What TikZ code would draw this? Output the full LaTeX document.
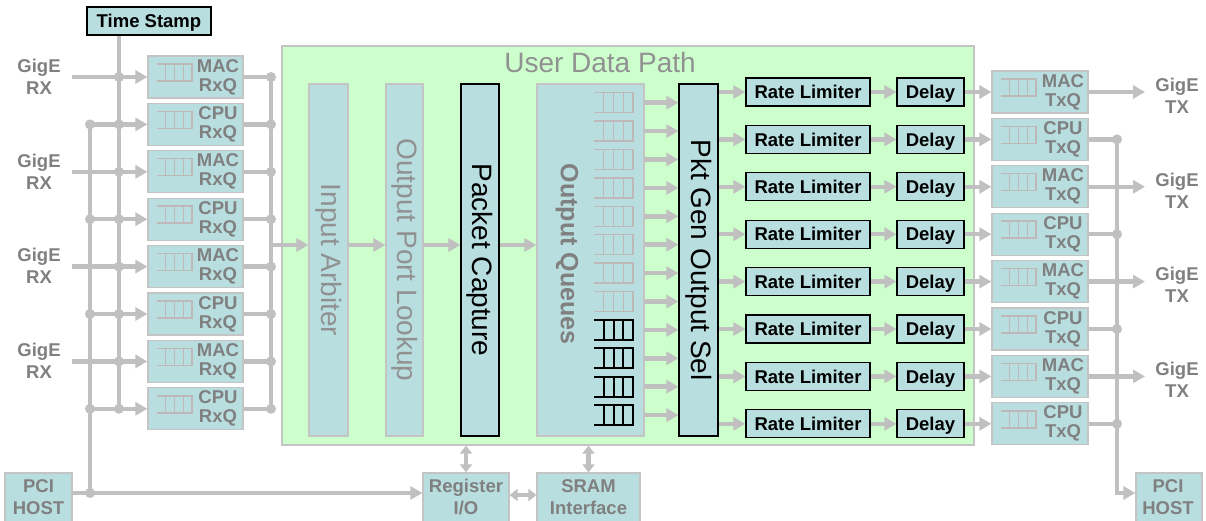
\documentclass[tikz,border=0pt]{standalone}
\usepackage{fontspec}
\setmainfont{Liberation Sans}
\usetikzlibrary{arrows.meta}

\definecolor{qblue}{RGB}{185,222,224}
\definecolor{udpgreen}{RGB}{204,255,204}
\definecolor{wiregray}{RGB}{192,192,192}
\definecolor{edgegray}{RGB}{196,196,196}
\definecolor{txtgray}{RGB}{128,128,128}
\definecolor{bigtxtgray}{RGB}{145,145,145}
\definecolor{icongray}{RGB}{190,184,184}

% queue glyph: left x, centre y, width, half height, draw options
\newcommand\ladder[5]{%
  \draw[#5] (#1,#2-#4) -- ++(#3,0) -- ++(0,2*#4) -- ++(-#3,0)
    (#1+0.25*#3,#2-#4) -- ++(0,2*#4)
    (#1+0.5*#3,#2-#4) -- ++(0,2*#4)
    (#1+0.75*#3,#2-#4) -- ++(0,2*#4);}

\begin{document}
\begin{tikzpicture}[x=1pt,y=-1pt,
  wire/.style={draw=wiregray,line width=4.5pt},
  arr/.style={wire,-{Triangle[length=12pt,width=13pt]}},
  darr/.style={wire,{Triangle[length=8pt,width=12pt]}-{Triangle[length=8pt,width=12pt]}},
  dot/.style={circle,fill=wiregray,inner sep=0pt,minimum size=10pt},
  softbox/.style={draw=edgegray,fill=qblue,line width=1.2pt,inner sep=0pt},
  hardbox/.style={draw=black,fill=qblue,line width=1.2pt,inner sep=0pt},
  lbl/.style={font=\fontsize{18.5}{19}\selectfont\bfseries,text=txtgray,align=center,inner sep=0pt},
  lbltwo/.style={font=\fontsize{18.5}{22}\selectfont\bfseries,text=txtgray,align=center,inner sep=0pt},
  blbl/.style={font=\fontsize{18.5}{19}\selectfont\bfseries,text=black,text depth=0pt},
  bigtxt/.style={font=\fontsize{28}{30}\selectfont,text=bigtxtgray,inner sep=0pt},
  softicon/.style={draw=icongray,line width=1.4pt},
  hardicon/.style={draw=black,line width=2pt},
]
\clip (0,0) rectangle (1206,521);

% user data path region and its pipeline columns
\node[draw=edgegray,fill=udpgreen,line width=1.2pt,minimum width=692pt,minimum height=399pt,inner sep=0pt] (udp) at (628,245.5) {};
\node[bigtxt] (udpt) at (600,62.5) {User Data Path};

\node[softbox,minimum width=39pt,minimum height=352pt] (arb) at (328.5,260) {};
\node[bigtxt,rotate=-90] (arbt) at (arb.center) {Input Arbiter};
\node[softbox,minimum width=37pt,minimum height=352pt] (lkp) at (404.5,260) {};
\node[bigtxt,rotate=-90] (lkpt) at (lkp.center) {Output Port Lookup};
\node[hardbox,minimum width=38pt,minimum height=352pt] (cap) at (480,260) {};
\node[bigtxt,text=black,rotate=-90] (capt) at (cap.center) {Packet Capture};
\node[softbox,minimum width=107pt,minimum height=352pt] (oq) at (590.5,260) {};
\node[font=\fontsize{25}{27}\selectfont\bfseries,text=txtgray,inner sep=0pt,rotate=-90] (oqt) at (567,254) {Output Queues};
\node[hardbox,minimum width=39pt,minimum height=352pt] (pg) at (698.5,260) {};
\node[bigtxt,text=black,rotate=-90] (pgt) at (pg.center) {Pkt Gen Output Sel};

% time stamp
\node[hardbox,blbl,minimum width=124pt,minimum height=28pt] (ts) at (149,21) {Time Stamp};

% host side blocks
\node[softbox,minimum width=67pt,minimum height=56pt] (pciL) at (38.5,501) {};
\node[lbltwo] (pciLt) at (38.5,497) {PCI\\HOST};
\node[softbox,minimum width=86pt,minimum height=56pt] (reg) at (466,501) {};
\node[lbltwo] (regt) at (466,497) {Register\\I/O};
\node[softbox,minimum width=103pt,minimum height=56pt] (sram) at (588.5,501) {};
\node[lbltwo] (sramt) at (588.5,497) {SRAM\\Interface};
\node[softbox,minimum width=66pt,minimum height=56pt] (pciR) at (1169,501) {};
\node[lbltwo] (pciRt) at (1168,497) {PCI\\HOST};

% bus coordinates
\coordinate (tsbus) at (119,408.8);
\coordinate (pcitop) at (90,124.4);
\coordinate (pcibot) at (90,493);
\coordinate (rxbusT) at (271,77);
\coordinate (rxbusB) at (271,408.8);
\coordinate (inbus) at (271,245);
\coordinate (txbusT) at (1117,139.4);
\coordinate (txbusB) at (1117,493);
\coordinate (rsY) at (0,495);

\draw[wire] (ts.south -| tsbus) -- (tsbus);
\draw[wire] (pcitop) -- (pcibot);
\draw[wire] (rxbusT) -- (rxbusB);

% receive queues
\foreach \ri in {0,...,7}{
  \pgfmathsetmacro\ry{77+47.4*\ri}
  \node[softbox,minimum width=95pt,minimum height=42pt] (rxq\ri) at (195.5,\ry) {};
  \ladder{157}{\ry-4.5}{35}{8.5}{softicon}
  \ifodd\ri
    \node[lbl] (rxqt\ri) at (218,\ry) {CPU\\RxQ};
    \draw[arr] (rxq\ri.west -| pcitop) -- (rxq\ri.west);
    \node[dot] (pcid\ri) at (rxq\ri.west -| pcitop) {};
  \else
    \node[lbl] (rxqt\ri) at (218,\ry) {MAC\\RxQ};
    \node[lbltwo] (rx\ri) at (39,\ry-0.5) {GigE\\RX};
    \coordinate (rxin\ri) at (72,\ry);
    \draw[arr] (rxin\ri) -- (rxq\ri.west);
  \fi
  \node[dot] (tsd\ri) at (rxq\ri.west -| tsbus) {};
  \draw[wire] (rxq\ri.east) -- (rxq\ri.east -| rxbusT);
  \node[dot] (rxd\ri) at (rxq\ri.east -| rxbusT) {};
}

% pipeline flow
\draw[arr] (inbus) -- (inbus -| arb.west);
\draw[arr] (inbus -| arb.east) -- (inbus -| lkp.west);
\draw[arr] (inbus -| lkp.east) -- (inbus -| cap.west);
\draw[arr] (inbus -| cap.east) -- (inbus -| oq.west);

% output queues
\foreach \qi in {0,...,11}{
  \pgfmathsetmacro\qy{102.7+28.4*\qi}
  \ifnum\qi<8
    \ladder{594}{\qy}{39}{10}{softicon}
  \else
    \ladder{594}{\qy}{39}{10}{hardicon}
  \fi
  \coordinate (oqa\qi) at (644,\qy);
  \draw[arr] (oqa\qi) -- (oqa\qi -| pg.west);
}

% per-port shaping and transmit queues
\foreach \ti in {0,...,7}{
  \pgfmathsetmacro\ty{92+47.4*\ti}
  \node[hardbox,blbl,minimum width=124pt,minimum height=28pt] (rl\ti) at (808,\ty) {Rate Limiter};
  \node[hardbox,blbl,minimum width=67pt,minimum height=28pt] (dl\ti) at (930.5,\ty) {Delay};
  \node[softbox,minimum width=96pt,minimum height=42pt] (txq\ti) at (1040,\ty) {};
  \ladder{1001}{\ty-4.5}{35}{8.5}{softicon}
  \draw[arr] (pg.east |- rl\ti.west) -- (rl\ti.west);
  \draw[arr] (rl\ti) -- (dl\ti);
  \draw[arr] (dl\ti) -- (txq\ti);
  \ifodd\ti
    \node[lbl] (txqt\ti) at (1063,\ty) {CPU\\TxQ};
    \draw[wire] (txq\ti.east) -- (txq\ti.east -| txbusT);
    \node[dot] (txd\ti) at (txq\ti.east -| txbusT) {};
  \else
    \node[lbl] (txqt\ti) at (1063,\ty) {MAC\\TxQ};
    \coordinate (txo\ti) at (1145,\ty);
    \draw[arr] (txq\ti) -- (txo\ti);
    \node[lbltwo] (tx\ti) at (1177,\ty+3.5) {GigE\\TX};
  \fi
}
\draw[arr] (txbusT) -- (txbusB) -- (txbusB -| pciR.west);

% host and register access
\draw[arr] (pciL.east |- pcibot) -- (reg.west |- pcibot);
\node[dot] (pcidB) at (pcibot) {};
\draw[darr] (reg.north) -- (reg.north |- udp.south);
\draw[darr] (sram.north) -- (sram.north |- udp.south);
\draw[darr] (reg.east |- rsY) -- (sram.west |- rsY);
\end{tikzpicture}
\end{document}
